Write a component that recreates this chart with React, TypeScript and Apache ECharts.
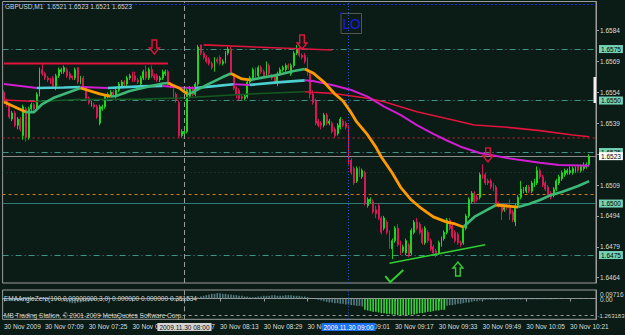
import React, { useEffect, useRef } from "react";
import * as echarts from "echarts";

// ---------- DATA (price code: price = 1 + code / 10000) ----------
// candle rows: [open, close, low, high], one per minute from 30 Nov 2009 06:54
const candleRows: number[][] = [
  [6554,6550,6549,6555],[6550,6549,6547,6551],[6548,6542,6541,6549],[6541,6544,6540,6545],[6544,6538,6537,6545],[6538,6541,6536,6542],[6541,6536,6535,6542],[6533,6547,6531,6548],[6546,6532,6530,6547],[6532,6546,6531,6547],
  [6546,6548,6545,6549],[6548,6546,6545,6549],[6546,6553,6545,6554],[6553,6565,6552,6566],[6565,6563,6562,6568],[6563,6561,6560,6564],[6561,6560,6559,6562],[6560,6559,6558,6561],[6561,6557,6556,6562],[6557,6562,6555,6563],
  [6562,6565,6561,6566],[6564,6565,6563,6566],[6564,6566,6563,6567],[6565,6562,6561,6566],[6563,6561,6560,6564],[6562,6561,6560,6562],[6561,6565,6560,6566],[6566,6559,6558,6566],[6559,6561,6558,6562],[6561,6556,6555,6562],
  [6556,6551,6550,6557],[6551,6549,6548,6552],[6548,6549,6547,6550],[6548,6547,6546,6549],[6547,6542,6541,6548],[6539,6547,6538,6548],[6546,6547,6545,6548],[6547,6552,6546,6553],[6552,6553,6551,6554],[6552,6554,6552,6555],
  [6554,6553,6552,6555],[6552,6555,6551,6556],[6555,6558,6554,6559],[6557,6559,6556,6560],[6559,6558,6557,6560],[6558,6561,6557,6562],[6561,6562,6560,6563],[6563,6560,6559,6564],[6562,6560,6559,6564],[6560,6559,6558,6561],
  [6558,6561,6557,6562],[6561,6564,6560,6565],[6564,6561,6560,6567],[6561,6565,6560,6566],[6565,6562,6561,6567],[6562,6561,6560,6563],[6562,6560,6559,6563],[6560,6561,6559,6562],[6561,6564,6560,6565],[6563,6564,6562,6565],
  [6564,6558,6557,6565],[6558,6557,6556,6559],[6556,6552,6551,6557],[6553,6550,6549,6554],[6549,6533,6532,6550],[6533,6535,6532,6536],[6534,6535,6533,6536],[6535,6555,6534,6556],[6552,6556,6551,6557],[6556,6553,6552,6557],
  [6553,6558,6552,6559],[6558,6576,6557,6577],[6577,6573,6572,6577],[6573,6571,6570,6574],[6571,6569,6568,6572],[6570,6568,6567,6571],[6568,6566,6565,6569],[6566,6570,6564,6571],[6570,6569,6568,6571],[6571,6568,6567,6572],
  [6568,6569,6567,6570],[6569,6573,6568,6574],[6573,6575,6572,6576],[6575,6563,6562,6576],[6563,6556,6555,6563],[6556,6553,6551,6557],[6555,6551,6550,6556],[6552,6551,6550,6553],[6551,6552,6550,6553],[6552,6559,6551,6560],
  [6559,6561,6558,6562],[6561,6565,6560,6566],[6565,6562,6561,6566],[6562,6566,6561,6567],[6566,6564,6563,6567],[6564,6562,6561,6565],[6563,6568,6562,6569],[6567,6563,6562,6568],[6562,6561,6560,6563],[6562,6559,6558,6563],
  [6559,6563,6557,6564],[6563,6565,6562,6566],[6565,6566,6564,6567],[6565,6567,6564,6568],[6567,6566,6565,6568],[6563,6567,6562,6568],[6567,6573,6566,6574],[6573,6575,6572,6577],[6575,6572,6571,6577],[6572,6571,6570,6573],
  [6572,6569,6568,6573],[6570,6563,6562,6571],[6563,6553,6551,6564],[6553,6549,6548,6555],[6550,6539,6538,6551],[6540,6538,6537,6541],[6539,6538,6536,6540],[6538,6543,6537,6544],[6543,6539,6538,6544],[6539,6540,6538,6541],
  [6539,6535,6534,6540],[6536,6533,6532,6537],[6534,6538,6533,6539],[6537,6541,6536,6542],[6540,6538,6537,6541],[6539,6537,6536,6540],[6537,6520,6519,6538],[6521,6515,6514,6522],[6517,6510,6509,6518],[6511,6517,6510,6518],
  [6517,6514,6513,6518],[6513,6516,6512,6517],[6515,6500,6499,6516],[6499,6502,6498,6503],[6501,6502,6500,6503],[6501,6496,6495,6502],[6497,6495,6493,6499],[6499,6493,6492,6500],[6493,6486,6485,6494],[6488,6493,6487,6494],
  [6491,6486,6485,6492],[6486,6479,6478,6487],[6478,6482,6473,6483],[6482,6488,6481,6489],[6488,6480,6479,6490],[6481,6476,6475,6482],[6477,6479,6476,6480],[6476,6482,6475,6483],[6480,6475,6474,6481],[6476,6487,6475,6488],
  [6486,6491,6485,6492],[6491,6488,6487,6493],[6490,6486,6485,6491],[6487,6481,6480,6488],[6481,6488,6480,6489],[6486,6482,6481,6487],[6482,6478,6477,6483],[6479,6476,6475,6480],[6477,6476,6474,6478],[6476,6481,6475,6482],
  [6480,6483,6479,6484],[6483,6486,6482,6487],[6486,6492,6485,6493],[6492,6488,6487,6493],[6489,6484,6483,6490],[6486,6482,6481,6487],[6485,6481,6480,6486],[6481,6480,6479,6482],[6481,6488,6480,6489],[6488,6494,6487,6495],
  [6494,6502,6493,6503],[6501,6505,6500,6506],[6505,6501,6500,6506],[6503,6502,6501,6504],[6503,6514,6502,6515],[6515,6513,6512,6519],[6514,6510,6509,6515],[6511,6510,6509,6512],[6511,6508,6507,6512],[6509,6507,6506,6510],
  [6508,6500,6499,6509],[6500,6499,6498,6501],[6499,6496,6492,6500],[6497,6498,6496,6499],[6499,6498,6497,6500],[6499,6495,6492,6502],[6496,6492,6491,6497],[6491,6499,6489,6500],[6499,6503,6498,6504],[6503,6507,6502,6511],
  [6506,6507,6505,6508],[6506,6508,6505,6509],[6508,6506,6505,6509],[6506,6510,6505,6511],[6509,6511,6508,6512],[6510,6516,6509,6518],[6516,6513,6512,6517],[6513,6509,6508,6514],[6510,6507,6506,6511],[6508,6504,6503,6509],
  [6505,6503,6502,6506],[6504,6507,6503,6508],[6507,6511,6506,6512],[6510,6513,6509,6514],[6512,6515,6511,6516],[6514,6516,6513,6517],[6515,6516,6514,6517],[6515,6516,6514,6518],[6515,6517,6514,6518],[6516,6517,6515,6518],
  [6518,6516,6515,6519],[6516,6518,6515,6519],[6517,6518,6516,6520],[6518,6519,6517,6520],[6519,6523,6518,6524],
];

// moving averages: [barIndex, code]
const fastMA: number[][] = [
  [0,6549.3],[4,6546.9],[8,6544.4],[11,6544.4],[14,6548.3],[18,6551.2],[23,6553.7],[28,6556.1],[35,6553.2],[39,6552.0],
  [41,6552.2],[46,6554.6],[53,6556.8],[58,6558.3],[60,6558.5],[64,6556.1],[67,6553.2],[68,6553.4],[74,6557.5],[80,6561.4],
  [83,6563.1],[87,6560.5],[90,6560.0],[94,6561.0],[100,6562.4],[106,6564.3],[110,6565.3],[113,6563.4],[117,6559.0],[121,6553.2],
  [124,6549.8],[127,6544.0],[129,6539.6],[133,6533.3],[136,6527.4],[138,6522.6],[142,6514.8],[145,6508.0],[149,6501.7],[152,6498.3],
  [157,6493.5],[162,6491.0],[165,6490.1],[168,6488.6],[172,6493.5],[176,6496.4],[180,6499.3],[184,6498.8],[188,6498.3],[192,6499.8],
  [196,6501.7],[200,6504.1],[204,6505.6],[210,6508.5],[214,6510.9],
];
const midMA: number[][] = [
  [0,6558.0],[12,6556.1],[22,6556.3],[28,6556.6],[38,6556.1],[50,6556.9],[58,6557.1],[64,6556.3],[70,6556.1],[78,6557.1],
  [84,6557.9],[90,6557.6],[100,6558.8],[110,6559.8],[113,6559.5],[120,6557.5],[127,6555.1],[133,6551.9],[139,6547.0],[145,6543.0],
  [151,6538.1],[157,6533.8],[162,6530.6],[167,6527.6],[174,6524.5],[184,6522.1],[196,6519.8],[203,6518.7],[214,6518.4],
];
const slowMA: number[][] = [
  [0,6550.3],[12,6549.5],[27,6550.5],[51,6550.7],[64,6551.2],[90,6553.2],[110,6554.3],[113,6554.0],[120,6553.5],[133,6551.1],
  [139,6549.4],[145,6547.0],[151,6544.6],[163,6540.9],[172,6538.1],[184,6537.0],[196,6535.4],[208,6533.3],[214,6532.4],
];

// EMAAngleZero histogram, one value per bar
const angleHist: number[] = [
  -0.1,-0.1,-0.15,-0.15,-0.2,-0.2,-0.2,-0.2,-0.15,-0.15,-0.1,-0.1,-0.05,-0.05,0,0,0,-0.05,-0.05,-0.1,
  -0.1,-0.15,-0.2,-0.25,-0.3,-0.35,-0.35,-0.3,-0.3,-0.25,-0.25,-0.2,-0.2,-0.15,-0.15,-0.1,-0.1,-0.05,-0.05,0,0,
  0.05,0.05,0.05,0.1,0.1,0.05,0.05,0,0,-0.05,-0.05,-0.05,0,0,0.05,0.05,0.05,0,0,-0.05,-0.1,-0.1,-0.15,-0.15,-0.2,-0.2,-0.15,-0.1,-0.05,0,
  0.1,0.15,0.2,0.25,0.3,0.35,0.35,0.4,0.4,0.35,0.35,0.3,0.3,0.25,0.25,0.2,0.2,0.15,0.15,0.1,0.1,0.1,0.15,0.15,0.2,0.2,0.2,0.25,0.25,
  0.2,0.2,0.2,0.25,0.25,0.25,0.2,0.2,0.2,0.15,0.15,0.1,0.05,0,-0.05,-0.1,-0.15,
  -0.2,-0.25,-0.3,-0.3,-0.35,-0.35,-0.4,-0.4,-0.45,-0.45,-0.5,-0.5,-0.55,-0.55,-0.6,
  -0.85,-0.9,-0.95,-1.0,-1.0,-1.05,-1.1,-1.1,-1.15,-1.15,-1.2,-1.2,-1.25,-1.263,-1.26,-1.25,-1.25,-1.2,-1.2,-1.15,-1.1,-1.1,-1.05,-1.0,-1.0,-0.95,-0.9,-0.9,-0.85,-0.85,
  -0.55,-0.5,-0.5,-0.45,-0.4,-0.4,-0.35,-0.3,-0.3,-0.25,-0.2,-0.2,-0.15,-0.15,-0.1,-0.1,
  -0.1,-0.1,-0.1,-0.1,-0.1,-0.1,-0.08,-0.08,-0.08,-0.08,-0.08,-0.08,-0.06,-0.06,-0.06,-0.06,-0.06,-0.06,
  -0.05,-0.05,-0.05,-0.05,-0.05,-0.05,-0.04,-0.04,-0.04,-0.04,-0.04,-0.04,-0.03,-0.03,-0.03,-0.03,-0.03,-0.03,-0.03,
];

const priceTicks = [1.6584, 1.6569, 1.6554, 1.6539, 1.6524, 1.6509, 1.6494, 1.6479, 1.6464];
const tickBars = [0, 15, 31, 47, 63, 79, 95, 111, 127, 143, 159, 175, 191, 207];
const tickTexts = ["30 Nov 2009","30 Nov 07:09","30 Nov 07:25","30 Nov 07:41","30 Nov 07:57","30 Nov 08:13","30 Nov 08:29","30 Nov 08:45","30 Nov 09:01","30 Nov 09:17","30 Nov 09:33","30 Nov 09:49","30 Nov 10:05","30 Nov 10:21"];
const levelPrices = [1.6575, 1.6550, 1.6525, 1.6500, 1.6475];
const bidPrice = 1.6523;
const redDotted = 1.65321;
const orangeDashed = 1.65045;
const faintDotted = 1.65153;
const leftResistance = [[0, 1.6568], [60, 1.6568]];
const topTrend = [[73, 1.6577], [120, 1.65745]];
const bottomTrend = [[141, 1.6471], [176, 1.6480]];
const vLines = [{ bar: 66, text: "2009.11.30 08:00" }, { bar: 126, text: "2009.11.30 09:00" }];
const downArrows = [[55, 1.65794], [109, 1.65818], [177, 1.6527]];
const upArrows = [[166, 1.64716]];
const checkMarks = [[142, 1.64619]];

// ---------- STYLE ----------
const BG = "#0a1c15";
const BULL = "#1ee01e";
const BEAR = "#e3185a";
const FONT = "Liberation Sans, Arial, sans-serif";
const FS = 6.5;
const N_SLOTS = 217;

const toPrice = (c: number) => 1 + c / 10000;

function runs(points: number[][]) {
  const out: { up: boolean; pts: number[][] }[] = [];
  for (let k = 0; k < points.length - 1; k++) {
    const up = points[k + 1][1] >= points[k][1];
    const last = out[out.length - 1];
    const a = [points[k][0], toPrice(points[k][1])];
    const b = [points[k + 1][0], toPrice(points[k + 1][1])];
    if (last && last.up === up) last.pts.push(b);
    else out.push({ up, pts: [a, b] });
  }
  return out;
}

function maSeries(points: number[][], upColor: string, downColor: string, upW: number, downW: number, z: number) {
  return runs(points).map((r) => ({
    type: "line",
    xAxisIndex: 0,
    yAxisIndex: 0,
    data: r.pts,
    showSymbol: false,
    silent: true,
    z,
    lineStyle: { color: r.up ? upColor : downColor, width: r.up ? upW : downW },
  }));
}

function buildOption() {
  const cats = Array.from({ length: N_SLOTS }, (_, i) => {
    const m = 6 * 60 + 54 + i;
    return String(Math.floor(m / 60)).padStart(2, "0") + ":" + String(m % 60).padStart(2, "0");
  });
  const tickMap: Record<number, string> = {};
  tickBars.forEach((b, k) => (tickMap[b] = tickTexts[k]));
  const showTick = (idx: number) => tickMap[idx] !== undefined;

  const dashDot = [6, 3, 1, 3];
  const hl = (p: number, bg: string) => ({
    show: true,
    position: "end",
    distance: 3,
    formatter: p.toFixed(4),
    backgroundColor: bg,
    color: "#000",
    padding: [1, 2, 0, 2],
    fontSize: FS,
    fontFamily: FONT,
  });
  const levelData: any[] = levelPrices.map((p) => ({
    yAxis: p,
    lineStyle: { color: p === 1.65 ? "#2d7a76" : "#3f9488", width: 1, type: p === 1.65 ? "solid" : dashDot },
    label: hl(p, "#74d3b6"),
  }));
  levelData.push(
    { yAxis: redDotted, lineStyle: { color: "#8e2027", width: 1.5, type: [2, 3] }, label: { show: false } },
    { yAxis: orangeDashed, lineStyle: { color: "#d9790a", width: 1, type: [3, 3] }, label: { show: false } },
    { yAxis: faintDotted, lineStyle: { color: "#1f4a45", width: 1, type: [1, 3] }, label: { show: false } },
    { yAxis: bidPrice, lineStyle: { color: "#8c8c8c", width: 1, type: "solid" }, label: hl(bidPrice, "#ffffff") }
  );

  const series: any[] = [
    {
      type: "candlestick",
      xAxisIndex: 0,
      yAxisIndex: 0,
      data: candleRows.map((r) => r.map(toPrice)),
      barWidth: 1.4,
      z: 2,
      itemStyle: { color: BULL, color0: BEAR, borderColor: BULL, borderColor0: BEAR, borderWidth: 0.9 },
      markLine: {
        silent: true,
        symbol: ["none", "none"],
        animation: false,
        label: { show: false },
        data: [
          { xAxis: vLines[0].bar, lineStyle: { color: "#9a9a9a", width: 1, type: [5, 3] } },
          { xAxis: vLines[1].bar, lineStyle: { color: "#2a55d8", width: 1, type: [1, 2] } },
        ],
      },
    },
    ...maSeries(slowMA, "#155a22", "#e0143c", 1.6, 1.6, 3),
    ...maSeries(midMA, "#4ccfd0", "#d21ed2", 2.6, 2, 4),
    ...maSeries(fastMA, "#3cb878", "#ff9a00", 2.6, 2.8, 5),
    {
      type: "line",
      xAxisIndex: 0,
      yAxisIndex: 0,
      data: leftResistance,
      showSymbol: false,
      silent: true,
      z: 6,
      lineStyle: { color: "#e0143c", width: 2 },
      markLine: { silent: true, symbol: ["none", "none"], animation: false, precision: 6, z: 1, data: levelData },
    },
    { type: "line", xAxisIndex: 0, yAxisIndex: 0, data: topTrend, showSymbol: false, silent: true, z: 6, lineStyle: { color: "#e0143c", width: 1.6 } },
    { type: "line", xAxisIndex: 0, yAxisIndex: 0, data: bottomTrend, showSymbol: false, silent: true, z: 6, lineStyle: { color: "#32cd32", width: 1.6 } },
    {
      type: "bar",
      xAxisIndex: 1,
      yAxisIndex: 1,
      data: angleHist,
      barWidth: 1.6,
      silent: true,
      itemStyle: { color: (p: any) => (p.value <= -0.75 ? "#3ad23a" : "#537a80") },
      markLine: {
        silent: true,
        symbol: ["none", "none"],
        animation: false,
        precision: 6,
        label: { show: false },
        data: [
          { yAxis: 0, lineStyle: { color: "#9a9a9a", width: 1, type: [3, 3] } },
          { yAxis: -1.263183, lineStyle: { color: "#9a9a9a", width: 1, type: [3, 3] } },
          { xAxis: vLines[0].bar, lineStyle: { color: "#9a9a9a", width: 1, type: [5, 3] } },
          { xAxis: vLines[1].bar, lineStyle: { color: "#2a55d8", width: 1, type: [1, 2] } },
        ],
      },
    },
  ];

  return {
    animation: false,
    backgroundColor: BG,
    grid: [
      { left: 2.6, top: 1.5, width: 593.4, height: 281.5, show: true, borderColor: "#9c9c9c", borderWidth: 1, backgroundColor: BG },
      { left: 2.6, top: 290, width: 593.4, height: 29.3, show: true, borderColor: "#9c9c9c", borderWidth: 1, backgroundColor: BG },
    ],
    xAxis: [
      { type: "category", gridIndex: 0, data: cats, boundaryGap: true, axisLine: { show: false }, axisTick: { show: false }, axisLabel: { show: false }, splitLine: { show: false } },
      {
        type: "category",
        gridIndex: 1,
        data: cats,
        boundaryGap: true,
        axisLine: { show: true, lineStyle: { color: "#9c9c9c" } },
        axisTick: { show: true, alignWithLabel: true, interval: (i: number) => showTick(i), length: 3, lineStyle: { color: "#9c9c9c" } },
        axisLabel: {
          show: true,
          interval: (i: number) => showTick(i),
          formatter: (_v: string, i: number) => tickMap[i] ?? "",
          align: "left",
          color: "#dcdcdc",
          fontSize: FS,
          fontFamily: FONT,
          margin: 4,
        },
        splitLine: { show: false },
      },
    ],
    yAxis: [
      {
        type: "value",
        gridIndex: 0,
        position: "right",
        min: 1.646143,
        max: 1.6598078,
        axisLine: { show: true, lineStyle: { color: "#9c9c9c" } },
        axisTick: { show: true, length: 3, customValues: priceTicks, lineStyle: { color: "#9c9c9c" } },
        axisLabel: { show: true, customValues: priceTicks, formatter: (v: number) => v.toFixed(4), color: "#dcdcdc", fontSize: FS, fontFamily: FONT, margin: 4 },
        splitLine: { show: false },
      },
      {
        type: "value",
        gridIndex: 1,
        position: "right",
        min: -1.564,
        max: 0.639,
        axisLine: { show: true, lineStyle: { color: "#9c9c9c" } },
        axisTick: { show: false },
        axisLabel: { show: false },
        splitLine: { show: false },
      },
    ],
    series,
  };
}

function buildGraphics(chart: any) {
  const g: any[] = [];
  const txt = "#d2d2d2";
  const font = `${FS}px ${FONT}`;
  g.push({ type: "line", silent: true, z: 1, shape: { x1: 3, y1: 4.5, x2: 595, y2: 4.5 }, style: { stroke: "#1c32d0", lineWidth: 1, lineDash: [2, 2] } });
  g.push({ type: "text", silent: true, z: 20, x: 5, y: 6, style: { text: "GBPUSD,M1  1.6521 1.6523 1.6521 1.6523", fill: txt, font, verticalAlign: "middle" } });
  // LO label box
  g.push({ type: "rect", silent: true, z: 20, shape: { x: 341, y: 13.5, width: 20.5, height: 20 }, style: { fill: "none", stroke: "#555555", lineWidth: 1 } });
  g.push({ type: "text", silent: true, z: 21, x: 351.5, y: 24, style: { text: "LO", fill: "#1a1ad8", font: `14px DejaVu Sans, sans-serif`, align: "center", verticalAlign: "middle" } });
  g.push({ type: "rect", silent: true, z: 21, shape: { x: 340, y: 12, width: 2, height: 2 }, style: { fill: "#1515c8" } });

  const down = [[-2.3, 0], [2.3, 0], [2.3, 8], [5, 8], [0, 14], [-5, 8], [-2.3, 8]];
  downArrows.forEach(([i, p]) => {
    const [x, y] = chart.convertToPixel({ gridIndex: 0 }, [i, p]);
    g.push({ type: "polygon", silent: true, z: 20, shape: { points: down.map(([dx, dy]) => [x + dx, y + dy]) }, style: { fill: "none", stroke: "#e0143c", lineWidth: 1.4 } });
  });
  const up = [[0, 0], [5, 6], [2.3, 6], [2.3, 14], [-2.3, 14], [-2.3, 6], [-5, 6]];
  upArrows.forEach(([i, p]) => {
    const [x, y] = chart.convertToPixel({ gridIndex: 0 }, [i, p]);
    g.push({ type: "polygon", silent: true, z: 20, shape: { points: up.map(([dx, dy]) => [x + dx, y + dy]) }, style: { fill: "none", stroke: "#32cd32", lineWidth: 1.4 } });
  });
  checkMarks.forEach(([i, p]) => {
    const [x, y] = chart.convertToPixel({ gridIndex: 0 }, [i, p]);
    g.push({ type: "polyline", silent: true, z: 20, shape: { points: [[x - 7, y - 6], [x - 2, y], [x + 11, y - 12]] }, style: { fill: "none", stroke: "#32cd32", lineWidth: 2 } });
  });

  // right-edge marker
  g.push({ type: "rect", silent: true, z: 20, shape: { x: 593.5, y: 77, width: 2.5, height: 26 }, style: { fill: "#f0f0f0" } });

  // vertical line date labels
  vLines.forEach((v, k) => {
    const x = chart.convertToPixel({ xAxisIndex: 1 }, v.bar);
    g.push({
      type: "text", silent: true, z: 30, x, y: 327,
      style: {
        text: v.text, font, align: "center", verticalAlign: "middle",
        fill: k === 0 ? "#101010" : "#ffffff",
        backgroundColor: k === 0 ? "#d4d4d4" : "#1d6ef0",
        padding: [1, 2, 0, 2],
      },
    });
  });

  g.push({ type: "text", silent: true, z: 20, x: 4, y: 298, style: { text: "EMAAngleZero(100,0.00000000,3,0) 0.000000 0.000000 0.351534", fill: txt, font, verticalAlign: "middle" } });
  g.push({ type: "text", silent: true, z: 20, x: 4, y: 315.5, style: { text: "MB Trading Station, © 2001-2009 MetaQuotes Software Corp.", fill: txt, font, verticalAlign: "middle" } });
  g.push({ type: "text", silent: true, z: 20, x: 600, y: 294, style: { text: "0.09716", fill: txt, font, verticalAlign: "middle" } });
  g.push({ type: "text", silent: true, z: 20, x: 600, y: 299.5, style: { text: "0.00", fill: txt, font, verticalAlign: "middle" } });
  g.push({ type: "text", silent: true, z: 20, x: 597.5, y: 315.5, style: { text: "-1.263183", fill: txt, font: `6px ${FONT}`, verticalAlign: "middle" } });
  return g;
}

export default function App() {
  const ref = useRef<HTMLDivElement>(null);
  useEffect(() => {
    if (!ref.current) return;
    const chart = echarts.init(ref.current, null, { renderer: "svg" });
    chart.setOption(buildOption() as any);
    chart.setOption({ graphic: buildGraphics(chart) } as any);
    return () => chart.dispose();
  }, []);
  return <div ref={ref} style={{ position: "fixed", left: 0, top: 0, width: 625, height: 335, background: BG }} />;
}
